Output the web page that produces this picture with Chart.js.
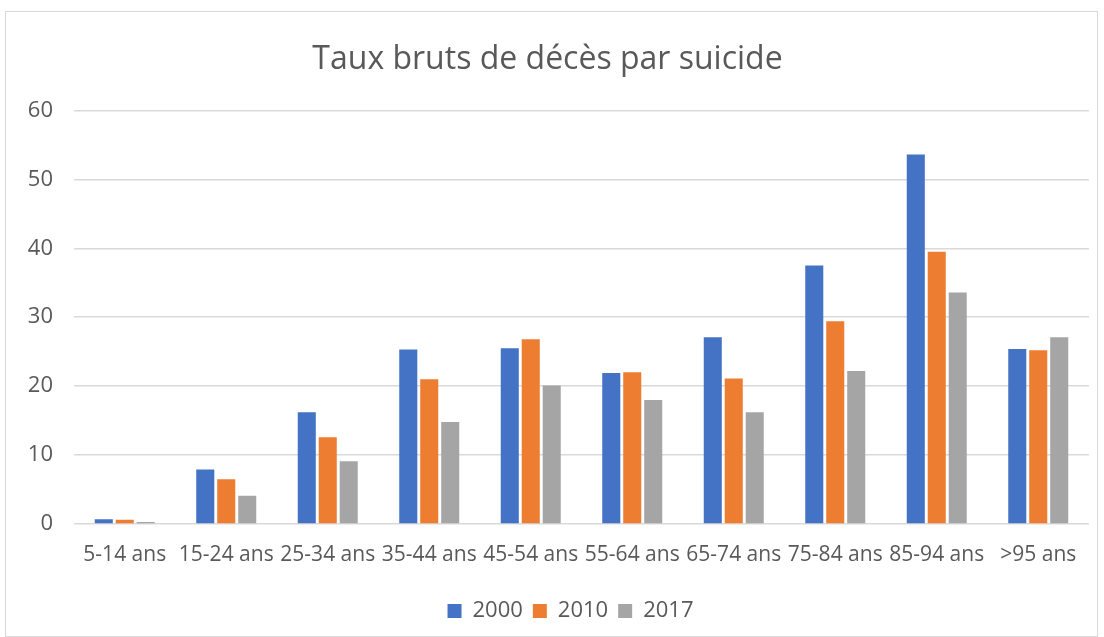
<!DOCTYPE html>
<html>
<head>
<meta charset="utf-8">
<script src="https://cdn.jsdelivr.net/npm/chart.js@4"></script>
<style>
    html, body { margin: 0; padding: 0; background: #fff; }
    #frame {
        position: absolute;
        left: 5px; top: 11px;
        width: 1093px; height: 626px;
        border: 1px solid #d9d9d9;
        box-sizing: border-box;
    }
</style>
</head>
<body>
<div id="frame"><canvas id="chart"></canvas></div>
<script>
// Tranches d'âge
const categories = ["5-14 ans", "15-24 ans", "25-34 ans", "35-44 ans", "45-54 ans",
                    "55-64 ans", "65-74 ans", "75-84 ans", "85-94 ans", ">95 ans"];

// Taux bruts par année
const values2000 = [0.7, 7.9, 16.2, 25.3, 25.5, 21.9, 27.1, 37.5, 53.6, 25.4];
const values2010 = [0.6, 6.5, 12.6, 21.0, 26.8, 22.0, 21.1, 29.4, 39.5, 25.2];
const values2017 = [0.3, 4.1, 9.1, 14.8, 20.1, 18.0, 16.2, 22.2, 33.6, 27.1];

const yTicks = [0, 10, 20, 30, 40, 50, 60];

const textColor = '#595959';
const gridColor = '#d9d9d9';
const fontFamily = "'Open Sans', 'Noto Sans', sans-serif";

function makeSet(label, data, color) {
    return {
        label: label,
        data: data,
        backgroundColor: color,
        borderWidth: 0,
        barPercentage: 0.86,
        categoryPercentage: 0.62
    };
}

// légende un peu décalée vers la droite, comme dans Excel
const legendShift = {
    id: 'legendShift',
    afterLayout(chart) {
        chart.legend.left += 23;
        chart.legend.right += 23;
    }
};

const ctx = document.getElementById('chart').getContext('2d');

new Chart(ctx, {
    type: 'bar',
    data: {
        labels: categories,
        datasets: [
            makeSet('2000', values2000, '#4472c4'),
            makeSet('2010', values2010, '#ed7d31'),
            makeSet('2017', values2017, '#a5a5a5')
        ]
    },
    plugins: [legendShift],
    options: {
        responsive: true,
        maintainAspectRatio: false,
        animation: false,
        layout: { padding: { left: 0, right: 8, top: 0, bottom: 4 } },
        plugins: {
            title: {
                display: true,
                text: 'Taux bruts de décès par suicide',
                color: textColor,
                font: { family: fontFamily, size: 32, weight: 'normal' },
                padding: { top: 29, bottom: 31 }
            },
            legend: {
                position: 'bottom',
                labels: {
                    color: textColor,
                    font: { family: fontFamily, size: 22 },
                    boxWidth: 14,
                    boxHeight: 14,
                    padding: 10
                }
            },
            tooltip: { enabled: false }
        },
        scales: {
            x: {
                grid: { display: false, drawTicks: false },
                border: { display: false },
                afterFit: function (axis) {
                    axis.height = 66;
                },
                ticks: {
                    color: textColor,
                    font: { family: fontFamily, size: 21 },
                    padding: 18,
                    maxRotation: 0,
                    autoSkip: false
                }
            },
            y: {
                min: 0,
                max: 60,
                afterBuildTicks: function (axis) {
                    axis.ticks = yTicks.map(v => ({ value: v }));
                },
                afterFit: function (axis) {
                    axis.width = 68;
                },
                grid: { color: gridColor, lineWidth: 1.5, drawTicks: false },
                border: { display: false },
                ticks: {
                    color: textColor,
                    font: { family: fontFamily, size: 22 },
                    padding: 21
                }
            }
        }
    }
});
</script>
</body>
</html>
